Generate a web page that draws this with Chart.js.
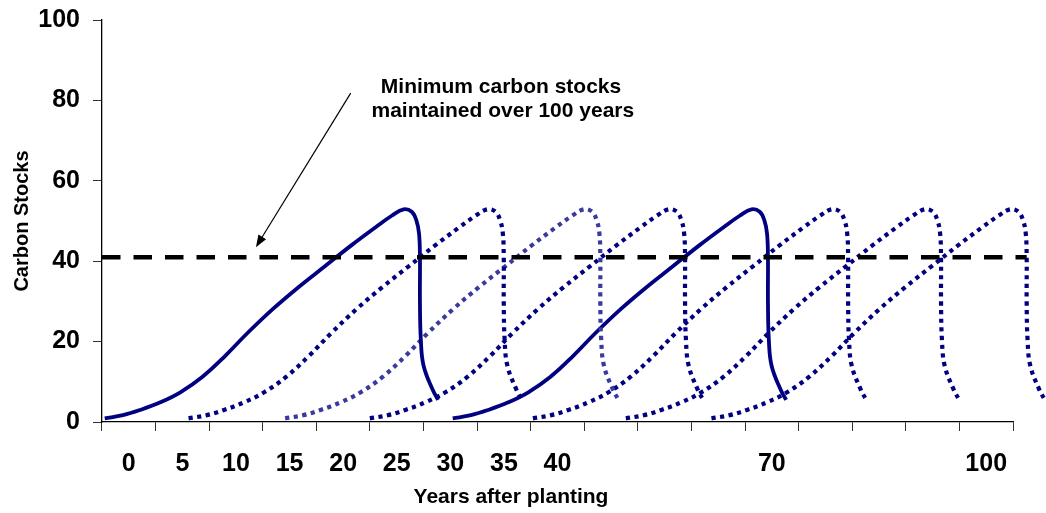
<!DOCTYPE html>
<html>
<head>
<meta charset="utf-8">
<script src="https://cdn.jsdelivr.net/npm/chart.js@4/dist/chart.umd.min.js"></script>
<style>
  html, body { margin: 0; padding: 0; background: #fff; }
</style>
</head>
<body>
<canvas id="carbon-chart" width="1046" height="513"></canvas>
<script>
/*------------------
     Chart data
--------------------*/
var yearLabels = ['0', '5', '10', '15', '20', '25', '30', '35', '40', '', '', '', '70', '', '', '', '100'];

// carbon stock along each rotation (same growth / harvest profile)
var stockValues = [0.9, 1.7, 3.0, 4.9, 7.4, 11.2, 16.4, 22.2, 28.2, 33.6, 38.8, 44.0, 48.4, 51.3, 52.9, 52.3, 50.2, 46.9, 41.0, 30.0, 20.4, 14.0, 8.0, 5.5];

// position of each point along the time axis, one array per rotation
var rotation1X = [0.3, 2.3, 4.2, 6.4, 8.6, 11.0, 13.5, 16.0, 18.8, 21.6, 24.5, 27.4, 30.0, 31.8, 33.1, 34.0, 34.5, 34.8, 34.9, 34.9, 35.0, 35.3, 36.3, 36.9];
var rotation2X = [9.5, 11.5, 13.4, 15.6, 17.8, 20.2, 22.7, 25.2, 28.0, 30.8, 33.7, 36.6, 39.2, 41.0, 42.3, 43.2, 43.7, 44.0, 44.1, 44.1, 44.2, 44.5, 45.5, 46.1];
var rotation3X = [20.1, 22.1, 24.0, 26.2, 28.4, 30.8, 33.3, 35.8, 38.6, 41.4, 44.3, 47.2, 49.8, 51.6, 52.9, 53.8, 54.3, 54.6, 54.7, 54.7, 54.8, 55.1, 56.1, 56.7];
var rotation4X = [29.4, 31.4, 33.3, 35.5, 37.7, 40.1, 42.6, 45.1, 47.9, 50.7, 53.6, 56.5, 59.1, 60.9, 62.2, 63.1, 63.6, 63.9, 64.0, 64.0, 64.1, 64.4, 65.4, 66.0];
var rotation5X = [38.5, 40.5, 42.4, 44.6, 46.8, 49.2, 51.7, 54.2, 57.0, 59.8, 62.7, 65.6, 68.2, 70.0, 71.3, 72.2, 72.7, 73.0, 73.1, 73.1, 73.2, 73.5, 74.5, 75.1];
var rotation6X = [47.3, 49.3, 51.2, 53.4, 55.6, 58.0, 60.5, 63.0, 65.8, 68.6, 71.5, 74.4, 77.0, 78.8, 80.1, 81.0, 81.5, 81.8, 81.9, 81.9, 82.0, 82.3, 83.3, 83.9];
var rotation7X = [57.5, 59.5, 61.4, 63.6, 65.8, 68.2, 70.7, 73.2, 76.0, 78.8, 81.7, 84.6, 87.2, 89.0, 90.3, 91.2, 91.7, 92.0, 92.1, 92.1, 92.2, 92.5, 93.5, 94.1];
var rotation8X = [66.9, 68.9, 70.8, 73.0, 75.2, 77.6, 80.1, 82.6, 85.4, 88.2, 91.1, 94.0, 96.6, 98.4, 99.7, 100.6, 101.1, 101.4, 101.5, 101.5, 101.6, 101.9, 102.9, 103.5];

var minimumX = [0, 101.5];
var minimumStock = [41, 41];

var yTicks = [0, 20, 40, 60, 80, 100];

/*------------------
     Helpers
--------------------*/
function toPoints(xs, ys) {
    return xs.map(function (x, i) { return { x: x, y: ys[i] }; });
}

var navy = '#000080';
var lightNavy = '#3a3a9e';
var fontFamily = '"Liberation Sans", Arial, sans-serif';

function rotation(xs, color, dotted) {
    return {
        data: toPoints(xs, stockValues),
        xAxisID: 'x2',
        borderColor: color,
        borderWidth: dotted ? 4.2 : 3.8,
        borderDash: dotted ? [4.2, 4.5] : [],
        borderCapStyle: 'butt',
        tension: 0.4,
        pointRadius: 0,
        clip: false,
        fill: false
    };
}

var datasets = [
    {
        data: toPoints(minimumX, minimumStock),
        xAxisID: 'x2',
        borderColor: '#000',
        borderWidth: 4.5,
        borderDash: [18.5, 13],
        pointRadius: 0,
        clip: false
    },
    rotation(rotation1X, navy, false),
    rotation(rotation2X, navy, true),
    rotation(rotation3X, lightNavy, true),
    rotation(rotation4X, navy, true),
    rotation(rotation5X, navy, false),
    rotation(rotation6X, navy, true),
    rotation(rotation7X, navy, true),
    rotation(rotation8X, navy, true)
];

/*------------------
     Notes & arrow
--------------------*/
var notesPlugin = {
    id: 'notes',
    afterDraw: function (chart) {
        var ctx = chart.ctx;
        var sx = chart.scales.x2;
        var sy = chart.scales.y;
        ctx.save();
        ctx.fillStyle = '#000';
        ctx.textAlign = 'center';
        ctx.textBaseline = 'middle';
        ctx.font = 'bold 21px ' + fontFamily;
        ctx.fillText('Minimum carbon stocks', sx.getPixelForValue(43.8), sy.getPixelForValue(83.4));
        ctx.fillText('maintained over 100 years', sx.getPixelForValue(44.0), sy.getPixelForValue(77.3));

        // x axis title
        ctx.font = 'bold 21px ' + fontFamily;
        ctx.fillText('Years after planting', 511, 497);

        // arrow
        var x1 = sx.getPixelForValue(27.3), y1 = sy.getPixelForValue(81.8);
        var x2 = sx.getPixelForValue(16.9), y2 = sy.getPixelForValue(43.5);
        var ang = Math.atan2(y2 - y1, x2 - x1);
        ctx.strokeStyle = '#000';
        ctx.lineWidth = 1.2;
        ctx.beginPath();
        ctx.moveTo(x1, y1);
        ctx.lineTo(x2 - 6 * Math.cos(ang), y2 - 6 * Math.sin(ang));
        ctx.stroke();
        ctx.beginPath();
        ctx.moveTo(x2, y2);
        ctx.lineTo(x2 - 12 * Math.cos(ang) + 4.5 * Math.sin(ang), y2 - 12 * Math.sin(ang) - 4.5 * Math.cos(ang));
        ctx.lineTo(x2 - 12 * Math.cos(ang) - 4.5 * Math.sin(ang), y2 - 12 * Math.sin(ang) + 4.5 * Math.cos(ang));
        ctx.closePath();
        ctx.fill();
        ctx.restore();
    }
};

/*------------------
     Chart
--------------------*/
var chart = new Chart(document.getElementById('carbon-chart'), {
    type: 'line',
    data: {
        labels: yearLabels,
        datasets: datasets
    },
    options: {
        responsive: false,
        animation: false,
        layout: { padding: { left: 0, right: 33, top: 20, bottom: 0 } },
        plugins: {
            legend: { display: false },
            tooltip: { enabled: false }
        },
        scales: {
            x: {
                type: 'category',
                offset: true,
                afterFit: function (scale) {
                    scale.height = 91;
                    scale.paddingLeft = 0;
                    scale.paddingRight = 0;
                },
                grid: {
                    offset: true,
                    drawOnChartArea: false,
                    tickLength: 9,
                    color: '#333'
                },
                border: { color: '#000', width: 1.3 },
                ticks: {
                    autoSkip: false,
                    maxRotation: 0,
                    padding: 18,
                    color: '#000',
                    font: { family: fontFamily, size: 25, weight: 'bold' }
                }
            },
            x2: {
                type: 'linear',
                display: false,
                bounds: 'data',
                // range set here (not min/max) so the last rotation may run past the axis end
                afterDataLimits: function (scale) {
                    scale.min = 0;
                    scale.max = 100;
                }
            },
            y: {
                min: 0,
                max: 100,
                afterFit: function (scale) {
                    scale.width = 102;
                    scale.paddingTop = 0;
                    scale.paddingBottom = 0;
                },
                afterBuildTicks: function (scale) {
                    scale.ticks = yTicks.map(function (v) { return { value: v }; });
                },
                grid: {
                    drawOnChartArea: false,
                    tickLength: 9,
                    color: '#333'
                },
                border: { color: '#000', width: 1.3 },
                ticks: {
                    padding: 13,
                    color: '#000',
                    font: { family: fontFamily, size: 25, weight: 'bold' }
                },
                title: {
                    display: true,
                    text: 'Carbon Stocks',
                    color: '#000',
                    padding: { top: 10, bottom: 0 },
                    font: { family: fontFamily, size: 20, weight: 'bold' }
                }
            }
        }
    },
    plugins: [notesPlugin]
});
</script>
</body>
</html>
